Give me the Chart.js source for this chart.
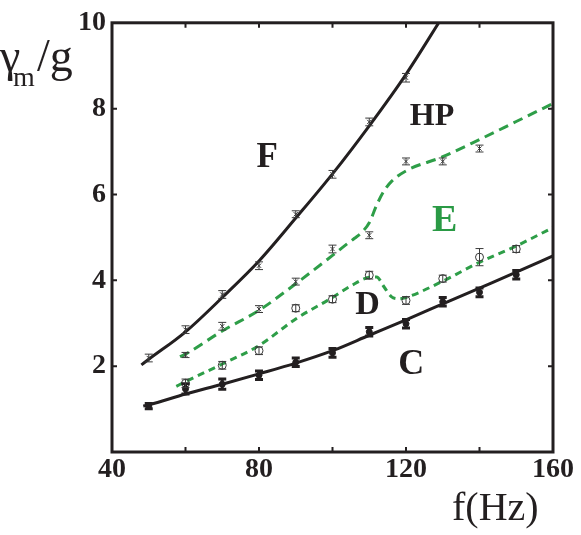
<!DOCTYPE html>
<html>
<head>
<meta charset="utf-8">
<script src="https://cdn.jsdelivr.net/npm/chart.js@4.4.1/dist/chart.umd.min.js"></script>
<style>
html, body { margin: 0; padding: 0; background: #fff; }
canvas { display: block; }
</style>
</head>
<body>
<canvas id="chart" width="581" height="535"></canvas>
<script>
// measured points, f (Hz) vs gamma_m / g
const cFreq = [50, 60, 70, 80, 90, 100, 110, 120, 130, 140, 150];
const cVals = [1.07, 1.47, 1.58, 1.79, 2.09, 2.31, 2.8, 2.99, 3.5, 3.72, 4.13];
const cErr  = [0.06, 0.12, 0.12, 0.1, 0.1, 0.1, 0.1, 0.1, 0.1, 0.1, 0.1];

const fFreq = [50, 60, 70, 80, 90, 100, 110, 120];
const fVals = [2.19, 2.85, 3.67, 4.34, 5.54, 6.47, 7.69, 8.72];
const fErr  = [0.09, 0.09, 0.09, 0.09, 0.08, 0.09, 0.09, 0.1];

const hpFreq = [60, 70, 80, 90, 100, 110, 120, 130, 140];
const hpVals = [2.26, 2.93, 3.33, 3.97, 4.73, 5.05, 6.77, 6.77, 7.07];
const hpErr  = [0.06, 0.09, 0.08, 0.08, 0.09, 0.08, 0.08, 0.08, 0.08];

const dFreq = [60, 70, 80, 90, 100, 110, 120, 130, 140, 150];
const dVals = [1.6, 2.02, 2.36, 3.35, 3.56, 4.12, 3.53, 4.04, 4.54, 4.73];
const dErr  = [0.1, 0.09, 0.09, 0.08, 0.08, 0.09, 0.09, 0.08, 0.2, 0.08];

// boundary curves
const lineCFreq = [48.5, 50, 60, 70, 80, 90, 100, 110, 120, 130, 140, 150, 160];
const lineCVals = [1.07, 1.1, 1.35, 1.58, 1.82, 2.07, 2.36, 2.72, 3.08, 3.45, 3.82, 4.19, 4.57];

const lineFFreq = [48, 50, 60, 70, 80, 90, 100, 110, 120, 130];
const lineFVals = [2.03, 2.16, 2.8, 3.6, 4.45, 5.45, 6.48, 7.6, 8.8, 10.15];

const lineEFreq = [58.5, 60, 70, 80, 90, 100, 104, 106, 108, 110, 112, 114, 116, 120, 130, 140, 150, 160];
const lineEVals = [2.22, 2.28, 2.82, 3.3, 3.92, 4.58, 4.85, 4.98, 5.12, 5.34, 5.75, 6.08, 6.3, 6.55, 6.88, 7.28, 7.7, 8.12];

const lineDFreq = [57.5, 60, 70, 80, 90, 100, 105, 110, 112, 114, 116, 118, 120, 130, 140, 150, 160];
const lineDVals = [1.53, 1.64, 2.05, 2.48, 3.1, 3.6, 3.87, 4.07, 4.08, 3.85, 3.62, 3.57, 3.6, 3.98, 4.42, 4.8, 5.23];

const xTicks = [40, 80, 120, 160];
const yTicks = [2, 4, 6, 8, 10];

const regions = [
  { text: 'F',  f: 82.2,  v: 6.65, size: 35, color: '#231f20' },
  { text: 'HP', f: 127.1, v: 7.63, size: 32, color: '#231f20' },
  { text: 'E',  f: 130.5, v: 5.14, size: 38, color: '#2a9a45' },
  { text: 'D',  f: 109.5, v: 3.21, size: 34, color: '#231f20' },
  { text: 'C',  f: 121.4, v: 1.81, size: 36, color: '#231f20' }
];

const ink = '#231f20';
const green = '#2e9e48';
const serif = "'Liberation Serif', 'Times New Roman', serif";

const pts = (xs, ys) => xs.map((x, i) => ({ x: x, y: ys[i] }));

const deco = {
  id: 'deco',
  afterDatasetsDraw(chart) {
    const { ctx, chartArea: a, scales: { x, y } } = chart;

    // error bars
    chart.data.datasets.forEach(ds => {
      if (!ds.err) return;
      ctx.save();
      ctx.strokeStyle = ds.borderColor;
      ctx.lineWidth = ds.errWidth;
      ds.data.forEach((p, i) => {
        const px = x.getPixelForValue(p.x);
        const y1 = y.getPixelForValue(p.y - ds.err[i]);
        const y2 = y.getPixelForValue(p.y + ds.err[i]);
        ctx.beginPath();
        ctx.moveTo(px, y1); ctx.lineTo(px, y2);
        ctx.moveTo(px - ds.cap, y1); ctx.lineTo(px + ds.cap, y1);
        ctx.moveTo(px - ds.cap, y2); ctx.lineTo(px + ds.cap, y2);
        ctx.stroke();
      });
      ctx.restore();
    });

    // frame and inward ticks
    ctx.save();
    ctx.strokeStyle = ink;
    ctx.lineWidth = 3;
    ctx.strokeRect(a.left, a.top, a.right - a.left, a.bottom - a.top);
    ctx.lineWidth = 2;
    ctx.beginPath();
    for (let v = 60; v < 160; v += 20) {
      const px = x.getPixelForValue(v);
      ctx.moveTo(px, a.bottom); ctx.lineTo(px, a.bottom - 5);
      ctx.moveTo(px, a.top); ctx.lineTo(px, a.top + 5);
    }
    for (let v = 2; v < 10; v += 2) {
      const py = y.getPixelForValue(v);
      ctx.moveTo(a.left, py); ctx.lineTo(a.left + 5, py);
      ctx.moveTo(a.right, py); ctx.lineTo(a.right - 5, py);
    }
    ctx.stroke();

    // region labels
    ctx.textAlign = 'center';
    ctx.textBaseline = 'alphabetic';
    regions.forEach(r => {
      ctx.font = 'bold ' + r.size + 'px ' + serif;
      ctx.fillStyle = r.color;
      ctx.fillText(r.text, x.getPixelForValue(r.f), y.getPixelForValue(r.v));
    });

    // axis titles
    ctx.fillStyle = ink;
    ctx.textAlign = 'left';
    ctx.font = '46px ' + serif;
    ctx.fillText('γ', 0, 71);
    ctx.fillText('/g', 37, 71);
    ctx.font = '28px ' + serif;
    ctx.fillText('m', 13, 86);
    ctx.font = '40px ' + serif;
    ctx.fillText('f(Hz)', 452, 520);
    ctx.restore();
  }
};

const curve = (xs, ys, color, width, dash) => ({
  data: pts(xs, ys),
  showLine: true,
  borderColor: color,
  borderWidth: width,
  borderDash: dash,
  pointRadius: 0,
  fill: false,
  cubicInterpolationMode: 'monotone'
});

const marks = (xs, ys, errs, style, radius, color, fillColor, errWidth, cap) => ({
  data: pts(xs, ys),
  showLine: false,
  pointStyle: style,
  pointRadius: radius,
  borderColor: color,
  backgroundColor: fillColor,
  pointBorderWidth: 1,
  err: errs,
  errWidth: errWidth,
  cap: cap
});

new Chart(document.getElementById('chart'), {
  type: 'scatter',
  data: {
    datasets: [
      marks(cFreq, cVals, cErr, 'circle', 3, ink, ink, 3, 4),
      marks(fFreq, fVals, fErr, 'crossRot', 3, '#3a3a3a', '#3a3a3a', 1, 4),
      marks(hpFreq, hpVals, hpErr, 'crossRot', 3, '#3a3a3a', '#3a3a3a', 1, 4),
      marks(dFreq, dVals, dErr, 'circle', 4, '#3a3a3a', 'rgba(0,0,0,0)', 1, 4),
      curve(lineCFreq, lineCVals, ink, 3, []),
      curve(lineFFreq, lineFVals, ink, 3, []),
      curve(lineEFreq, lineEVals, green, 3, [10, 6]),
      curve(lineDFreq, lineDVals, green, 3, [7, 5])
    ]
  },
  options: {
    responsive: false,
    animation: false,
    layout: { padding: { top: 21, right: 28, left: 0, bottom: 0 } },
    plugins: { legend: { display: false }, tooltip: { enabled: false } },
    scales: {
      x: {
        type: 'linear',
        min: 40,
        max: 160,
        afterFit: s => { s.height = 83; },
        afterBuildTicks: s => { s.ticks = xTicks.map(v => ({ value: v })); },
        grid: { display: false, drawTicks: false },
        border: { display: false },
        ticks: {
          autoSkip: false,
          maxRotation: 0,
          padding: 1,
          color: ink,
          font: { family: serif, weight: 'bold', size: 28 }
        }
      },
      y: {
        min: 0,
        max: 10,
        afterFit: s => { s.width = 112; },
        afterBuildTicks: s => { s.ticks = yTicks.map(v => ({ value: v })); },
        grid: { display: false, drawTicks: false },
        border: { display: false },
        ticks: {
          padding: 6,
          color: ink,
          font: { family: serif, weight: 'bold', size: 28 }
        }
      }
    }
  },
  plugins: [deco]
});
</script>
</body>
</html>
